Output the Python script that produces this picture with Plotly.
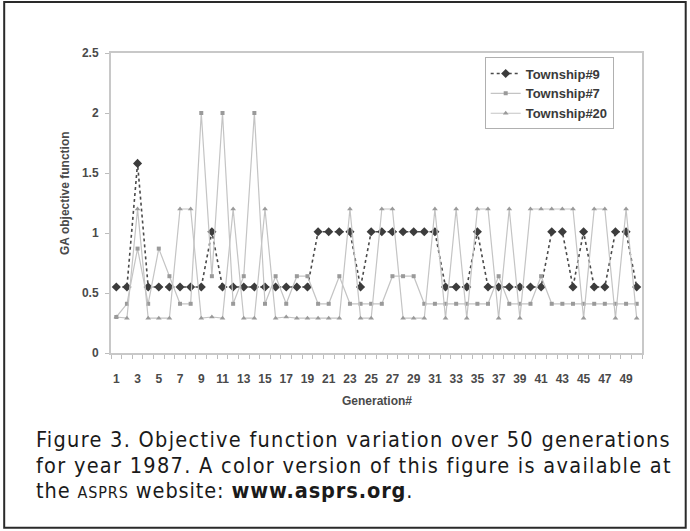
import plotly.graph_objects as go

generations = list(range(1, 51))
township9 = [0.55, 0.55, 1.58, 0.55, 0.55, 0.55, 0.55, 0.55, 0.55, 1.01,
             0.55, 0.55, 0.55, 0.55, 0.55, 0.55, 0.55, 0.55, 0.55, 1.01,
             1.01, 1.01, 1.01, 0.55, 1.01, 1.01, 1.01, 1.01, 1.01, 1.01,
             1.01, 0.55, 0.55, 0.55, 1.01, 0.55, 0.55, 0.55, 0.55, 0.55,
             0.55, 1.01, 1.01, 0.55, 1.01, 0.55, 0.55, 1.01, 1.01, 0.55]
township7 = [0.30, 0.41, 0.87, 0.41, 0.87, 0.64, 0.41, 0.41, 2.00, 0.64,
             2.00, 0.41, 0.64, 2.00, 0.41, 0.64, 0.41, 0.64, 0.64, 0.41,
             0.41, 0.64, 0.41, 0.41, 0.41, 0.41, 0.64, 0.64, 0.64, 0.41,
             0.41, 0.41, 0.41, 0.41, 0.41, 0.41, 0.64, 0.41, 0.41, 0.41,
             0.64, 0.41, 0.41, 0.41, 0.41, 0.41, 0.41, 0.41, 0.41, 0.41]
township20 = [0.30, 0.29, 1.20, 0.29, 0.29, 0.29, 1.20, 1.20, 0.29, 0.30,
              0.29, 1.20, 0.29, 0.29, 1.20, 0.29, 0.30, 0.29, 0.29, 0.29,
              0.29, 0.29, 1.20, 0.29, 0.29, 1.20, 1.20, 0.29, 0.29, 0.29,
              1.20, 0.29, 1.20, 0.29, 1.20, 1.20, 0.29, 1.20, 0.29, 1.20,
              1.20, 1.20, 1.20, 1.20, 0.29, 1.20, 1.20, 0.29, 1.20, 0.29]
x_tick_labels = [str(g) for g in range(1, 50, 2)]
y_ticks = [0, 0.5, 1, 1.5, 2, 2.5]

W, H = 690, 531
L, R, T, B = 111.3, 642.3, 52.5, 353.0
PW, PH = R - L, B - T

def px(xp):
    return (xp - L) / PW

def py(yp):
    return (B - yp) / PH

fig = go.Figure()
fig.add_trace(go.Scatter(
    x=generations, y=township9, name="Township#9", mode="lines+markers",
    line=dict(color="#4a4a4a", width=1.6, dash="dot"),
    marker=dict(symbol="diamond", size=7, color="#3c3c3c")))
fig.add_trace(go.Scatter(
    x=generations, y=township7, name="Township#7", mode="lines+markers",
    line=dict(color="#c4c4c4", width=1.2),
    marker=dict(symbol="square", size=4, color="#9a9a9a")))
fig.add_trace(go.Scatter(
    x=generations, y=township20, name="Township#20", mode="lines+markers",
    line=dict(color="#c4c4c4", width=1.2),
    marker=dict(symbol="triangle-up", size=5, color="#9a9a9a")))

fig.update_layout(
    width=W, height=H,
    margin=dict(l=L, r=W - R, t=T, b=H - B, autoexpand=False),
    paper_bgcolor="white", plot_bgcolor="white",
    font=dict(family="Liberation Sans, Arial, sans-serif", color="#444"),
    showlegend=True,
    legend=dict(x=px(485), y=py(57), xanchor="left", yanchor="top",
                bgcolor="white", bordercolor="#b0b0b0", borderwidth=1,
                font=dict(family="Liberation Sans, Arial, sans-serif", size=13,
                          color="#3a3a3a", weight="bold"),
                tracegroupgap=0),
    xaxis=dict(range=[0.5, 50.5], tickmode="array",
               tickvals=list(range(1, 50, 2)), ticktext=x_tick_labels,
               ticks="", showgrid=False, zeroline=False,
               showline=True, linecolor="#c8c8c8", linewidth=2, mirror=True,
               tickfont=dict(family="Liberation Sans, Arial, sans-serif", size=12, color="#4a4a4a", weight="bold"),
               ticklabelstandoff=14,
               minor=dict(tickmode="linear", tick0=0.5, dtick=1, ticks="outside",
                          ticklen=4, tickcolor="#bdbdbd", tickwidth=1, showgrid=False)),
    yaxis=dict(range=[0, 2.5], tickmode="array", tickvals=y_ticks,
               ticktext=["0", "0.5", "1", "1.5", "2", "2.5"],
               ticks="outside", ticklen=4, tickcolor="#bdbdbd",
               showgrid=False, zeroline=False,
               showline=True, linecolor="#c8c8c8", linewidth=2, mirror=True,
               tickfont=dict(family="Liberation Sans, Arial, sans-serif", size=12, color="#4a4a4a", weight="bold"),
               ticklabelstandoff=4),
)

annotations = [
    dict(text="<b>Generation#</b>", x=px(377), y=py(401), xref="paper", yref="paper",
         showarrow=False, xanchor="center", yanchor="middle",
         font=dict(family="Liberation Sans, Arial, sans-serif", size=12, color="#4a4a4a")),
    dict(text="<b>GA objective function</b>", x=px(66), y=py(193), xref="paper", yref="paper",
         showarrow=False, xanchor="center", yanchor="middle", textangle=-90,
         font=dict(family="Liberation Sans, Arial, sans-serif", size=12, color="#4a4a4a")),
]
cap_font = dict(family="DejaVu Sans Condensed, Liberation Sans Narrow, sans-serif", size=21.5, color="#1a1a1a")
caption_lines = [
    ("<span style='letter-spacing:1.3px'>Figure 3. Objective function variation over 50 generations</span>", 440),
    ("<span style='letter-spacing:1.3px'>for year 1987. A color version of this figure is available at</span>", 466),
    ("<span style='letter-spacing:0.9px'>the <span style='font-size:16px'>ASPRS</span> website: <b>www.asprs.org</b>.</span>", 491),
]
for txt, yy in caption_lines:
    annotations.append(dict(text=txt, x=px(34), y=py(yy), xref="paper", yref="paper",
                            showarrow=False, xanchor="left", yanchor="middle",
                            align="left", font=cap_font))
fig.update_layout(annotations=annotations)

fig.add_shape(type="rect", xref="paper", yref="paper",
              x0=px(4.5), x1=px(686), y0=py(528), y1=py(1.5),
              line=dict(color="#2a2a2a", width=2), fillcolor="rgba(0,0,0,0)", layer="above")

fig.write_html("out.html")
